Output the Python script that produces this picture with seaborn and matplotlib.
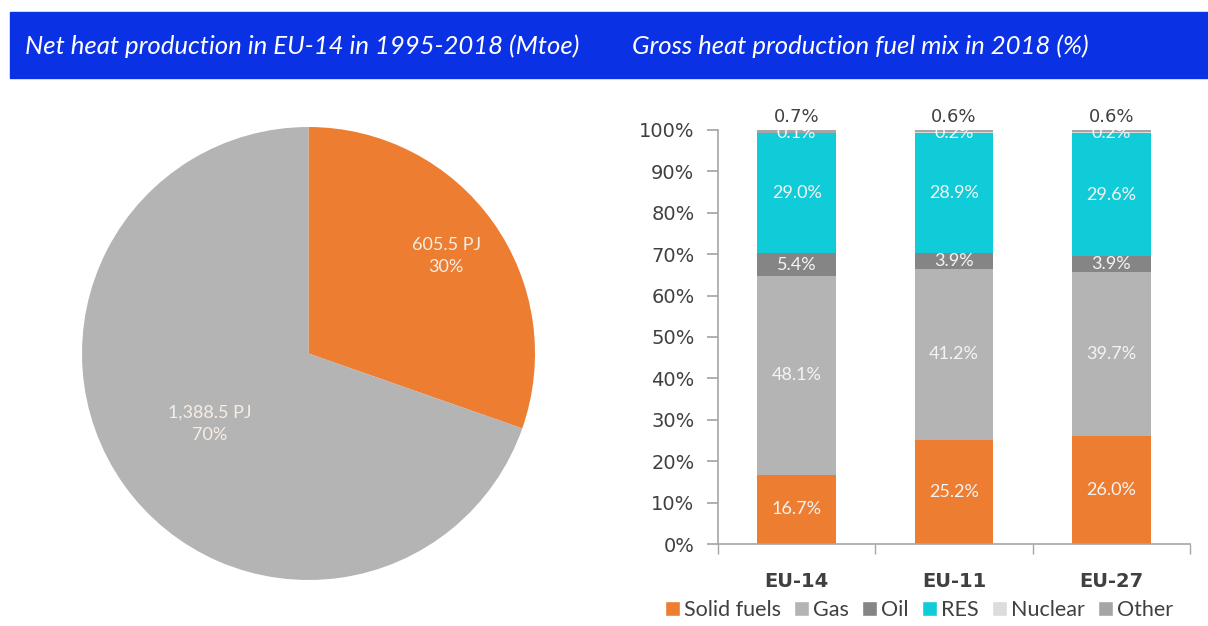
import numpy as np
import pandas as pd
import matplotlib
matplotlib.use("Agg")
import matplotlib.pyplot as plt
import seaborn as sns
from matplotlib.patches import Patch, Rectangle
from matplotlib.ticker import PercentFormatter, FixedLocator

# --- data ---
pie_labels = ['605.5 PJ', '1,388.5 PJ']
pie_values = [605.5, 1388.5]

regions = ['EU-14', 'EU-11', 'EU-27']
fuels = ['Solid fuels', 'Gas', 'Oil', 'RES', 'Nuclear', 'Other']
solid = [16.7, 25.2, 26.0]
gas = [48.1, 41.2, 39.7]
oil = [5.4, 3.9, 3.9]
res = [29.0, 28.9, 29.6]
nuclear = [0.1, 0.2, 0.2]
other = [0.7, 0.6, 0.6]

fuel_colors = {'Solid fuels': '#ED7D31', 'Gas': '#B4B4B4', 'Oil': '#858585',
               'RES': '#0FCCD8', 'Nuclear': '#DCDCDC', 'Other': '#A5A5A5'}
pie_colors = ['#ED7D31', '#B4B4B4']

sns.set_theme(style='white')
plt.rcParams['font.family'] = ['DejaVu Sans']

fig = plt.figure(figsize=(12.08, 6.26), dpi=100)

# --- banner ---
fig.patches.append(Rectangle((10 / 1208, 1 - 78 / 626), 1, 66 / 626,
                             transform=fig.transFigure, color='#0A32E4', zorder=0))
fig.text(25 / 1208, 1 - 46 / 626, 'Net heat production in EU-14 in 1995-2018 (Mtoe)',
         color='white', fontsize=18.5, style='italic', family='Lato', va='center')
fig.text(632 / 1208, 1 - 46 / 626, 'Gross heat production fuel mix in 2018 (%)',
         color='white', fontsize=18.5, style='italic', family='Lato', va='center')

# --- pie ---
ax1 = fig.add_axes([82 / 1208, 46 / 626, 453 / 1208, 453 / 626])
wedges, _ = ax1.pie(pie_values, colors=pie_colors, startangle=90, counterclock=False,
                    radius=1.0, wedgeprops={'linewidth': 0})
ax1.set_xlim(-1, 1)
ax1.set_ylim(-1, 1)
total = sum(pie_values)
label_dist = [0.745, 0.536]
for w, lab, val, d in zip(wedges, pie_labels, pie_values, label_dist):
    ang = np.deg2rad((w.theta1 + w.theta2) / 2)
    ax1.text(d * np.cos(ang), d * np.sin(ang), f'{lab}\n{val / total * 100:.0f}%',
             ha='center', va='center', color='#F6EEE6', fontsize=13, family='Lato',
             linespacing=1.5)

# --- stacked bars ---
df = pd.DataFrame({'region': regions, 'Solid fuels': solid, 'Gas': gas, 'Oil': oil,
                   'RES': res, 'Nuclear': nuclear, 'Other': other})
cum = df[fuels].cumsum(axis=1)
ax2 = fig.add_axes([718 / 1208, 82 / 626, 472 / 1208, 414 / 626])
for f in reversed(fuels):
    sns.barplot(x=df['region'], y=cum[f], order=regions, color=fuel_colors[f],
                saturation=1, width=0.5, linewidth=0, ax=ax2)

for i in range(len(regions)):
    for f in fuels[:-1]:
        v = df.loc[i, f]
        mid = cum.loc[i, f] - v / 2
        ax2.text(i, mid, f'{v:.1f}%', ha='center', va='center', color='#F4F4F4',
                 fontsize=13, family='Lato', clip_on=True)
    ax2.annotate(f"{df.loc[i, 'Other']:.1f}%", (i, 100), xytext=(0, 3),
                 textcoords='offset points', ha='center', va='bottom',
                 color='#404040', fontsize=13, annotation_clip=False)

ax2.set_ylim(0, 100)
ax2.set_xlim(-0.5, 2.5)
ax2.yaxis.set_major_locator(FixedLocator(np.arange(0, 101, 10)))
ax2.yaxis.set_major_formatter(PercentFormatter(100, decimals=0))
ax2.set_xlabel('')
ax2.set_ylabel('')
for s in ['top', 'right']:
    ax2.spines[s].set_visible(False)
for s in ['left', 'bottom']:
    ax2.spines[s].set_color('#A6A6A6')
    ax2.spines[s].set_linewidth(1.2)
ax2.tick_params(axis='y', direction='out', length=8, color='#A6A6A6', pad=9,
                labelsize=14, labelcolor='#404040', left=True)
ax2.tick_params(axis='x', which='major', length=0, pad=20, labelsize=14,
                labelcolor='#404040')
ax2.set_xticks([-0.5, 0.5, 1.5, 2.5], minor=True)
ax2.tick_params(axis='x', which='minor', direction='out', length=7, color='#A6A6A6',
                bottom=True)
for t in ax2.get_xticklabels():
    t.set_fontweight('semibold')

handles = [Patch(facecolor=fuel_colors[f], label=f) for f in fuels]
leg = fig.legend(handles=handles, loc='center', bbox_to_anchor=(919 / 1208, 16 / 626),
                 ncol=6, frameon=False, handlelength=0.7, handleheight=0.7,
                 handletextpad=0.2, columnspacing=0.6, prop={'family': 'Lato', 'size': 15.5})
for t in leg.get_texts():
    t.set_color('#404040')

fig.savefig('out.png', dpi=100)
